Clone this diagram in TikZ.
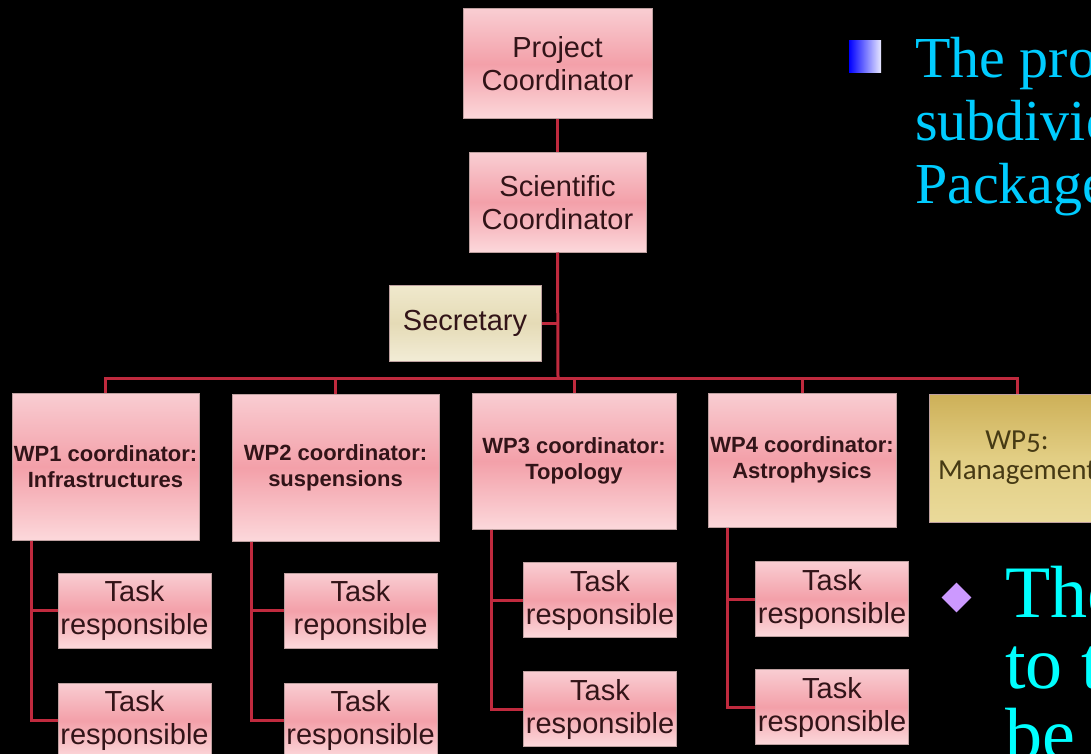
\documentclass[tikz,border=0pt]{standalone}
\usepackage{fontspec}
\setmainfont{Liberation Sans}
\newfontfamily\slidefont{Liberation Serif}
\newfontfamily\mgmtfont{Carlito}[Numbers=OldStyle]
\usetikzlibrary{shapes.geometric}

\definecolor{linkred}{RGB}{192,42,62}
\definecolor{boxedge}{RGB}{190,160,160}
\definecolor{boxtext}{RGB}{50,20,24}
\definecolor{pinktop}{RGB}{249,205,210}
\definecolor{pinkmid}{RGB}{243,160,169}
\definecolor{pinkbot}{RGB}{252,216,219}
\definecolor{creamtop}{RGB}{240,233,205}
\definecolor{creammid}{RGB}{229,219,182}
\definecolor{creambot}{RGB}{242,236,214}
\definecolor{goldtop}{RGB}{205,176,88}
\definecolor{goldmid}{RGB}{226,206,132}
\definecolor{goldbot}{RGB}{234,218,154}
\definecolor{goldtext}{RGB}{70,58,20}
\definecolor{procyan}{RGB}{0,204,255}
\definecolor{tocyan}{RGB}{0,255,255}
\definecolor{lilac}{RGB}{204,153,255}

\tikzset{
	orgbox/.style={draw=boxedge, line width=1pt, inner sep=0pt, align=center, text=boxtext},
	pinkbox/.style={orgbox, top color=pinktop, bottom color=pinkbot, middle color=pinkmid},
	coordbox/.style={pinkbox, font=\fontsize{29}{33}\selectfont},
	secbox/.style={orgbox, top color=creamtop, bottom color=creambot, middle color=creammid, font=\fontsize{29}{33}\selectfont},
	wpbox/.style={pinkbox, font=\bfseries\fontsize{22}{26}\selectfont},
	mgmtbox/.style={orgbox, top color=goldtop, bottom color=goldbot, middle color=goldmid, text=goldtext, font=\mgmtfont\fontsize{29}{30}\selectfont},
	taskbox/.style={pinkbox, font=\fontsize{29}{33}\selectfont, minimum width=153pt, minimum height=75pt},
	conn/.style={draw=linkred, line width=3pt},
	proline/.style={inner sep=0pt, anchor=base west, text=procyan, font=\slidefont\fontsize{58}{62}\selectfont},
	toline/.style={inner sep=0pt, anchor=base west, text=tocyan, font=\slidefont\fontsize{74}{71}\selectfont}
}

\begin{document}
\begin{tikzpicture}[x=1pt, y=-1pt]
	\fill[black] (0,0) rectangle (1091,754);
	\useasboundingbox (0,0) rectangle (1091,754);

	% top of the chart
	\node[coordbox, minimum width=189pt, minimum height=110pt] (pc) at (557.5,64) {Project\\Coordinator};
	\node[coordbox, minimum width=177pt, minimum height=99pt] (sc) at (557.5,202.5) {Scientific\\Coordinator};
	\node[secbox, minimum width=152pt, minimum height=76pt] (sec) at (465,323) {Secretary};

	% work packages
	\node[wpbox, minimum width=187pt, minimum height=147pt] (wp1) at (105.5,466.5) {WP1 coordinator:\\Infrastructures};
	\node[wpbox, minimum width=207pt, minimum height=147pt] (wp2) at (335.5,467.5) {WP2 coordinator:\\suspensions};
	\node[wpbox, minimum width=204pt, minimum height=136pt] (wp3) at (574,461) {WP3 coordinator:\\Topology};
	\node[wpbox, minimum width=188pt, minimum height=134pt] (wp4) at (802,460) {WP4 coordinator:\\Astrophysics};
	\node[mgmtbox, minimum width=176pt, minimum height=128pt] (wp5) at (1017,458) {WP5:\\Management};

	% task boxes
	\foreach \w/\x/\ya/\yb/\first in {1/134.5/610.5/720.5/responsible, 2/360.5/610.5/720.5/reponsible, 3/600/600/709/responsible, 4/832/599/707/responsible}{
		\node[taskbox] (t\w a) at (\x,\ya) {Task\\\first};
		\node[taskbox] (t\w b) at (\x,\yb) {Task\\responsible};
		\draw[conn] ([xshift=20pt]wp\w.south west) |- (t\w a.west);
		\draw[conn] ([xshift=20pt]wp\w.south west) |- (t\w b.west);
	}

	% connectors
	\coordinate (bus) at (558,378);
	\draw[conn] (pc.south) -- (sc.north);
	\draw[conn] (sc.south) -- (bus);
	\draw[conn] (sec.east) -- (sec.east -| sc.south);
	\foreach \w in {wp1,wp2,wp3,wp4,wp5}{
		\draw[conn] (\w.north) |- (bus);
	}

	% slide text
	\node[minimum size=32pt, inner sep=0pt, left color=blue, right color={rgb,255:red,232;green,232;blue,255}] (sqbul) at (865,57) {};
	\foreach \txt [count=\i] in {The pro, subdivid, Package}{
		\node[proline] (pro\i) at (915,{78+62.5*(\i-1)}) {\txt};
	}
	\node[diamond, minimum size=30pt, inner sep=0pt, fill=lilac] (dmbul) at (956.5,597.5) {};
	\foreach \txt [count=\i] in {The, to t, be}{
		\node[toline] (to\i) at (1005,{617+71*(\i-1)}) {\txt};
	}
\end{tikzpicture}
\end{document}
